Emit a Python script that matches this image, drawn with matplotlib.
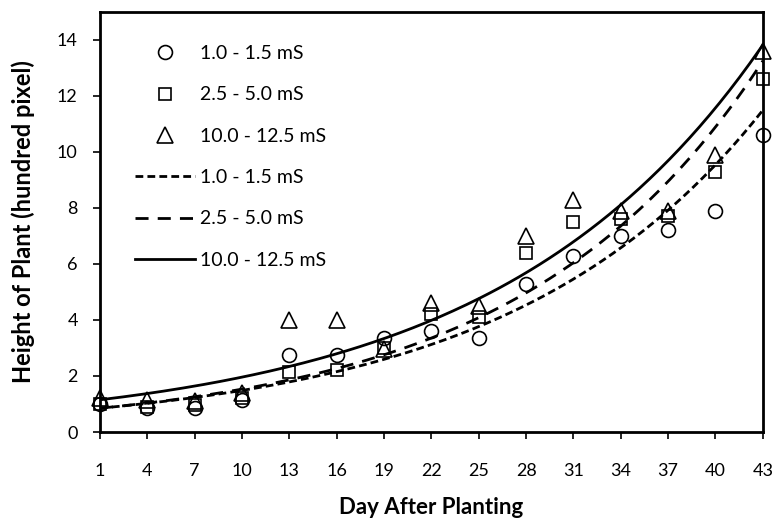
import matplotlib.pyplot as plt
import numpy as np

plt.rcParams['font.family'] = ['Lato', 'DejaVu Sans']

days = [1, 4, 7, 10, 13, 16, 19, 22, 25, 28, 31, 34, 37, 40, 43]
labels = ['1.0 - 1.5 mS', '2.5 - 5.0 mS', '10.0 - 12.5 mS']

# observed heights (hundred pixel)
h_low = [1.0, 0.85, 0.85, 1.15, 2.75, 2.75, 3.35, 3.6, 3.35, 5.3, 6.3, 7.0, 7.2, 7.9, 10.6]
h_mid = [1.0, 0.9, 0.95, 1.2, 2.15, 2.2, 3.0, 4.2, 4.1, 6.4, 7.5, 7.6, 7.7, 9.3, 12.6]
h_high = [1.2, 1.15, 1.1, 1.4, 4.0, 4.0, 2.95, 4.6, 4.5, 7.0, 8.3, 7.9, 7.9, 9.9, 13.6]

# exponential trend y = a*exp(b*x)
fit_a = [0.799, 0.796, 1.084]
fit_b = [0.0620, 0.0654, 0.0592]

fig = plt.figure(figsize=(7.78, 5.18), dpi=100)
ax = fig.add_axes([0.1285, 0.166, 0.852, 0.811])

mk = dict(linestyle='none', markerfacecolor='none', markeredgecolor='black',
          markeredgewidth=1.2, clip_on=False, zorder=3)
ax.plot(days, h_low, marker='o', markersize=10, label=labels[0], **mk)
ax.plot(days, h_mid, marker='s', markersize=8, label=labels[1], **mk)
ax.plot(days, h_high, marker='^', markersize=11, label=labels[2], **mk)

t = np.linspace(1, 43, 200)
dashes = [(2.8, 1.5), (4.7, 3.3), None]
for i in range(3):
    y = fit_a[i] * np.exp(fit_b[i] * t)
    line, = ax.plot(t, y, color='black', linewidth=2, label=labels[i])
    if dashes[i] is not None:
        line.set_dashes(dashes[i])

ax.set_xlim(1, 43)
ax.set_ylim(0, 15)
ax.set_xticks(days)
ax.set_yticks(range(0, 15, 2))
ax.tick_params(labelsize=13, direction='out', length=5, width=1.2)
ax.tick_params(axis='x', pad=17)
ax.tick_params(axis='y', pad=11)
for s in ax.spines.values():
    s.set_linewidth(2)

ax.set_xlabel('Day After Planting', fontsize=16, fontweight='bold', labelpad=13)
ax.set_ylabel('Height of Plant (hundred pixel)', fontsize=17, fontweight='bold', labelpad=16)

ax.legend(loc='upper left', frameon=False, fontsize=14, handlelength=3.1,
          labelspacing=1.25, handletextpad=0.25, borderpad=0, borderaxespad=0,
          bbox_to_anchor=(0.053, 0.921))

fig.savefig('out.png', dpi=100)
